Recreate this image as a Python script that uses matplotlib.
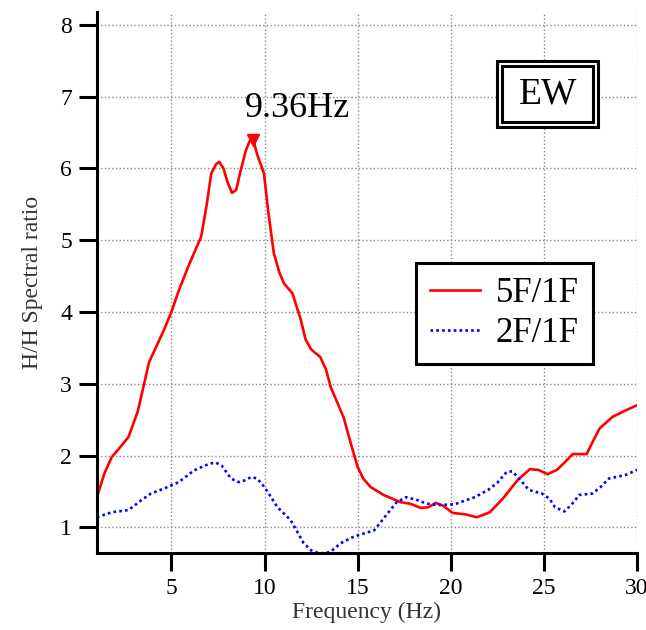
import matplotlib
matplotlib.use("Agg")
import matplotlib.pyplot as plt
from matplotlib.patches import Rectangle

plt.rcParams['font.family'] = ['Liberation Serif', 'DejaVu Serif']

# 5F/1F spectral ratio (red)
freq_5f = [1.0, 1.4, 1.8, 2.2, 2.7, 3.2, 3.8, 4.3, 4.6, 5.0, 5.4, 5.9, 6.6, 6.9, 7.14, 7.4,
           7.57, 7.8, 8.0, 8.25, 8.48, 8.7, 9.0, 9.2, 9.4, 9.6, 9.97, 10.2, 10.5, 10.8,
           11.04, 11.5, 11.95, 12.2, 12.5, 13.0, 13.3, 13.56, 14.25, 14.6, 15.0, 15.3,
           15.7, 16.4, 17.3, 17.8, 18.4, 18.8, 19.2, 19.6, 20.1, 20.8, 21.4, 22.1,
           22.8, 23.6, 24.25, 24.7, 25.2, 25.7, 26.1, 26.55, 27.3, 27.6, 28.0, 28.7,
           29.4, 30.0]
ratio_5f = [1.42, 1.75, 1.98, 2.10, 2.26, 2.62, 3.30, 3.58, 3.75, 4.0, 4.30, 4.63, 5.05,
            5.50, 5.93, 6.06, 6.09, 6.00, 5.82, 5.66, 5.70, 5.95, 6.25, 6.38, 6.40,
            6.20, 5.93, 5.40, 4.82, 4.55, 4.40, 4.26, 3.89, 3.62, 3.48, 3.37, 3.20,
            2.95, 2.53, 2.20, 1.84, 1.68, 1.56, 1.45, 1.35, 1.33, 1.27, 1.28, 1.34,
            1.30, 1.20, 1.18, 1.14, 1.21, 1.40, 1.66, 1.81, 1.80, 1.74, 1.80, 1.90,
            2.02, 2.02, 2.18, 2.38, 2.54, 2.63, 2.70]

# 2F/1F spectral ratio (blue)
freq_2f = [1.0, 1.8, 2.7, 3.4, 3.9, 4.6, 5.4, 6.2, 6.7, 7.1, 7.4, 7.7, 8.2, 8.6, 8.9,
           9.3, 9.6, 10.0, 10.7, 11.4, 11.8, 12.1, 12.5, 12.9, 13.3, 13.6, 14.1, 14.8,
           15.9, 16.6, 17.1, 17.6, 18.2, 18.7, 19.3, 20.2, 21.3, 22.0, 22.5, 23.0,
           23.3, 23.6, 24.2, 24.9, 25.3, 25.6, 26.1, 26.5, 26.9, 27.6, 28.0, 28.5,
           29.4, 30.0]
ratio_2f = [1.14, 1.21, 1.24, 1.38, 1.47, 1.54, 1.63, 1.79, 1.85, 1.89, 1.90, 1.86, 1.68,
            1.63, 1.65, 1.70, 1.68, 1.56, 1.28, 1.10, 0.92, 0.78, 0.68, 0.64, 0.64,
            0.67, 0.78, 0.87, 0.96, 1.19, 1.35, 1.42, 1.38, 1.33, 1.31, 1.32, 1.42,
            1.52, 1.62, 1.77, 1.78, 1.70, 1.52, 1.47, 1.40, 1.28, 1.22, 1.32, 1.45,
            1.47, 1.55, 1.68, 1.73, 1.80]

peak_f = 9.36
peak_v = 6.40

fig = plt.figure(figsize=(6.46, 6.30), dpi=100)
ax = fig.add_axes([0.150, 0.122, 0.836, 0.859])

ax.plot(freq_5f, ratio_5f, color='red', lw=1.9, label='5F/1F')
ax.plot(freq_2f, ratio_2f, color='blue', lw=1.9, ls=(0, (1, 1.2)), label='2F/1F')
ax.plot([peak_f], [peak_v], marker='v', color='red', ms=9, ls='none')
ax.text(peak_f - 0.4, 6.72, '%.2fHz' % peak_f, fontsize=26, ha='left', va='baseline')

ax.set_xlim(1, 30)
ax.set_ylim(0.64, 8.18)
ax.set_xticks([5, 10, 15, 20, 25, 30])
ax.set_yticks([1, 2, 3, 4, 5, 6, 7, 8])
ax.grid(True, ls=':', color='#888888', lw=1.0)
ax.set_axisbelow(True)

for s in ['top', 'right']:
    ax.spines[s].set_visible(False)
for s in ['left', 'bottom']:
    ax.spines[s].set_linewidth(2.2)
ax.tick_params(direction='out', length=13, width=2.2, labelsize=17, pad=5)

ax.set_xlabel('Frequency (Hz)', fontsize=17, color='#333333', labelpad=2)
ax.set_ylabel('H/H Spectral ratio', fontsize=17, color='#333333', labelpad=12)

# EW double box
ax.add_patch(Rectangle((0.741, 0.787), 0.187, 0.122, transform=ax.transAxes,
                       fill=True, facecolor='white', edgecolor='black', lw=2.2, zorder=5))
ax.add_patch(Rectangle((0.750, 0.796), 0.169, 0.104, transform=ax.transAxes,
                       fill=False, edgecolor='black', lw=2.2, zorder=6))
ax.text(0.8345, 0.848, 'EW', transform=ax.transAxes, fontsize=27,
        ha='center', va='center', zorder=7)

leg = ax.legend(loc='upper left', bbox_to_anchor=(0.591, 0.536), fontsize=25,
                frameon=True, fancybox=False, edgecolor='black', framealpha=1,
                handlelength=1.45, handletextpad=0.45, borderpad=0.4, labelspacing=0.2,
                borderaxespad=0)
leg.get_frame().set_linewidth(2.2)

fig.savefig('out.png', dpi=100)
